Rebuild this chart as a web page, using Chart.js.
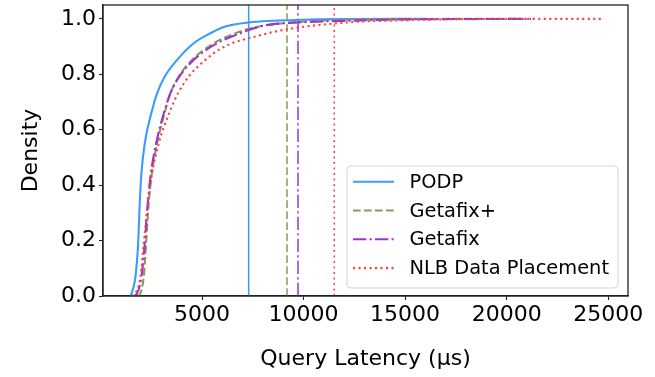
<!DOCTYPE html>
<html><head><meta charset="utf-8">
<script src="https://cdn.jsdelivr.net/npm/chart.js@4.4.1/dist/chart.umd.min.js"></script>
<style>html,body{margin:0;padding:0;background:#fff;} #wrap{width:655px;height:377px;}</style>
</head><body><div id="wrap"><canvas id="c" width="655" height="377"></canvas></div>
<script>
const seriesNames = ["PODP", "Getafix+", "Getafix", "NLB Data Placement"];

const podpX = [1480, 1600, 1724, 1856, 1920, 2004, 2181, 2545, 2791, 3166, 3775, 4591, 5413, 6151, 7297, 8500, 10000, 12000, 16000];
const podpY = [0, 0.025, 0.07, 0.19, 0.31, 0.431, 0.551, 0.671, 0.732, 0.792, 0.852, 0.912, 0.948, 0.972, 0.987, 0.993, 0.997, 0.999, 1.0];

const getafixPlusX = [1850, 1970, 2132, 2250, 2348, 2511, 2791, 3199, 3445, 3854, 4510, 5576, 6643, 7381, 9013, 11000, 14000, 20800];
const getafixPlusY = [0, 0.01, 0.07, 0.19, 0.31, 0.431, 0.551, 0.671, 0.732, 0.792, 0.852, 0.912, 0.948, 0.966, 0.984, 0.994, 0.999, 1.0];

const getafixX = [1650, 1807, 2019, 2181, 2299, 2462, 2742, 3166, 3445, 3888, 4591, 5742, 6889, 7381, 8185, 10000, 12100, 15000, 21200];
const getafixY = [0, 0.01, 0.07, 0.19, 0.31, 0.431, 0.551, 0.671, 0.732, 0.792, 0.852, 0.912, 0.948, 0.962, 0.978, 0.988, 0.993, 0.998, 1.0];

const nlbX = [1550, 1724, 1970, 2132, 2299, 2511, 2870, 3445, 3824, 4345, 5167, 5821, 6480, 7297, 9013, 12100, 15000, 18000, 24800];
const nlbY = [0, 0.01, 0.07, 0.19, 0.31, 0.431, 0.551, 0.671, 0.732, 0.792, 0.852, 0.888, 0.912, 0.930, 0.960, 0.987, 0.995, 0.999, 1.0];

// vertical reference lines (one per series)
const vlineX = [7297, 9186, 9727, 11513];

const xTicks = [5000, 10000, 15000, 20000, 25000];
const yTicks = [0.0, 0.2, 0.4, 0.6, 0.8, 1.0];
const xRange = [125, 25975];
const yRange = [0, 1.05];

const colors = ["#389cfa", "#8a9a5b", "#9c35cc", "#ff3f3f"];
const dashes = [[], [7.7, 3.3], [13.3, 3.3, 2.1, 3.3], [2.1, 3.4]];
const FONT = "'DejaVu Sans', sans-serif";

const curvesX = [podpX, getafixPlusX, getafixX, nlbX];
const curvesY = [podpY, getafixPlusY, getafixY, nlbY];

const datasets = [];
curvesX.forEach((xs, i) => {
  datasets.push({
    label: seriesNames[i],
    data: xs.map((x, j) => ({x: x, y: curvesY[i][j]})),
    showLine: true, pointRadius: 0, borderWidth: 2.1,
    borderColor: colors[i], borderDash: dashes[i],
    cubicInterpolationMode: 'monotone', fill: false, order: 4 - i
  });
});
vlineX.forEach((vx, i) => {
  datasets.push({
    label: seriesNames[i] + ' mean',
    data: [{x: vx, y: yRange[0]}, {x: vx, y: yRange[1]}],
    showLine: true, pointRadius: 0, borderWidth: 1.5,
    borderColor: colors[i], borderDash: dashes[i], fill: false, order: 10
  });
});

const frameLegend = {
  id: 'frameLegend',
  afterDraw(chart) {
    const ctx = chart.ctx, a = chart.chartArea;
    ctx.save();
    ctx.strokeStyle = '#222'; ctx.lineWidth = 1.3; ctx.setLineDash([]);
    ctx.strokeRect(a.left, a.top, a.right - a.left, a.bottom - a.top);
    const bx = 347, by = 166, bw = 271, bh = 122, r = 4;
    ctx.beginPath();
    ctx.moveTo(bx + r, by); ctx.lineTo(bx + bw - r, by); ctx.arcTo(bx + bw, by, bx + bw, by + r, r);
    ctx.lineTo(bx + bw, by + bh - r); ctx.arcTo(bx + bw, by + bh, bx + bw - r, by + bh, r);
    ctx.lineTo(bx + r, by + bh); ctx.arcTo(bx, by + bh, bx, by + bh - r, r);
    ctx.lineTo(bx, by + r); ctx.arcTo(bx, by, bx + r, by, r); ctx.closePath();
    ctx.fillStyle = 'rgba(255,255,255,0.85)'; ctx.fill();
    ctx.strokeStyle = '#d4d4d4'; ctx.lineWidth = 1; ctx.stroke();
    ctx.font = "19.4px " + FONT; ctx.textBaseline = 'middle'; ctx.fillStyle = '#000';
    seriesNames.forEach((name, i) => {
      const y = 181.7 + i * 28.8;
      ctx.beginPath(); ctx.setLineDash(dashes[i]); ctx.strokeStyle = colors[i]; ctx.lineWidth = 2.1;
      ctx.moveTo(353, y); ctx.lineTo(394, y); ctx.stroke();
      ctx.setLineDash([]);
      ctx.fillText(name, 409.5, y + 1);
    });
    ctx.restore();
  }
};

new Chart(document.getElementById('c'), {
  type: 'scatter',
  data: { datasets },
  plugins: [frameLegend],
  options: {
    responsive: false, animation: false, devicePixelRatio: 1,
    layout: { padding: { left: 0, top: 5, right: 27, bottom: 0 } },
    plugins: { legend: { display: false }, tooltip: { enabled: false } },
    scales: {
      x: {
        type: 'linear', min: xRange[0], max: xRange[1],
        afterBuildTicks: s => { s.ticks = xTicks.map(v => ({value: v})); },
        afterFit: s => { s.height = 81; s.paddingLeft = 0; s.paddingRight = 0; },
        grid: { display: true, drawOnChartArea: false, drawTicks: true, tickLength: 4, color: '#222', tickWidth: 1.1 },
        border: { display: true, color: '#222', width: 1.3 },
        ticks: { autoSkip: false, maxRotation: 0, padding: 2, color: '#000', font: { family: FONT, size: 22 }, callback: v => String(v) },
        title: { display: true, text: 'Query Latency (µs)', color: '#000', font: { family: FONT, size: 22 }, padding: { top: 0, bottom: 5 } }
      },
      y: {
        type: 'linear', min: yRange[0], max: yRange[1],
        afterBuildTicks: s => { s.ticks = yTicks.map(v => ({value: v})); },
        afterFit: s => { s.width = 103; s.paddingTop = 0; s.paddingBottom = 0; },
        grid: { display: true, drawOnChartArea: false, drawTicks: true, tickLength: 4, color: '#222', tickWidth: 1.1 },
        border: { display: true, color: '#222', width: 1.3 },
        ticks: { padding: 3, color: '#000', font: { family: FONT, size: 22 }, callback: v => v.toFixed(1) },
        title: { display: true, text: 'Density', color: '#000', font: { family: FONT, size: 22 }, padding: { top: 18, bottom: 0 } }
      }
    }
  }
});
</script>
</body></html>
